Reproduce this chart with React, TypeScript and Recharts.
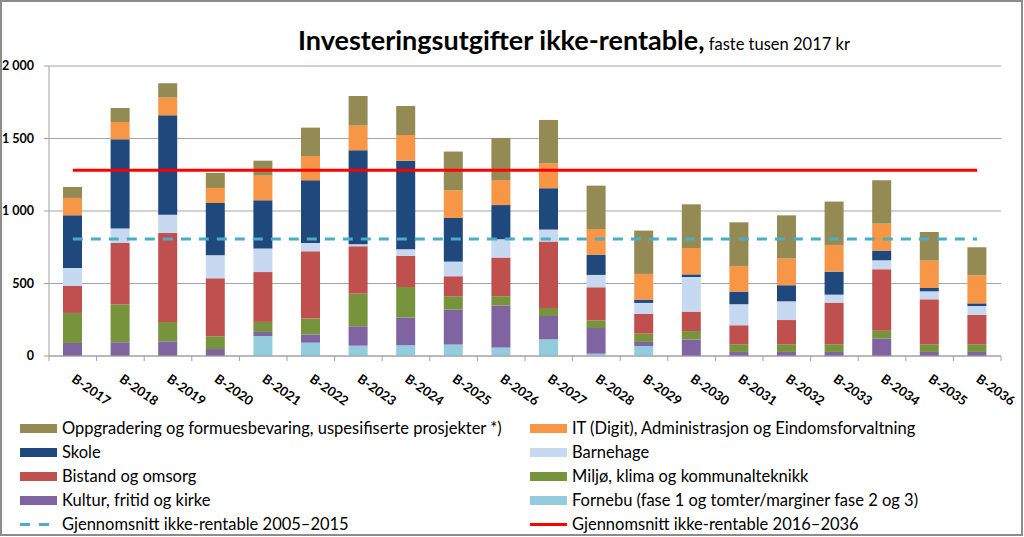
import React from "react";
import {
  ComposedChart,
  Bar,
  XAxis,
  YAxis,
  CartesianGrid,
  ReferenceLine,
} from "recharts";

const years = [
  "B-2017", "B-2018", "B-2019", "B-2020", "B-2021", "B-2022", "B-2023",
  "B-2024", "B-2025", "B-2026", "B-2027", "B-2028", "B-2029", "B-2030",
  "B-2031", "B-2032", "B-2033", "B-2034", "B-2035", "B-2036",
];

// stacked from the bottom up
const fornebu = [0, 0, 0, 0, 138, 92, 71, 74, 79, 58, 115, 16, 69, 0, 0, 0, 0, 0, 0, 0];
const kultur = [90, 94, 101, 48, 28, 56, 134, 191, 241, 290, 161, 177, 28, 113, 28, 28, 28, 120, 28, 28];
const miljo = [207, 262, 134, 88, 69, 110, 225, 211, 92, 64, 55, 53, 57, 59, 53, 53, 53, 55, 53, 53];
const bistand = [186, 423, 613, 400, 344, 464, 327, 214, 138, 267, 458, 228, 138, 134, 131, 167, 287, 423, 310, 202];
const barnehage = [124, 100, 127, 158, 162, 57, 13, 46, 101, 126, 83, 85, 74, 239, 145, 129, 55, 62, 55, 62];
const skole = [363, 615, 685, 361, 333, 433, 649, 611, 301, 236, 285, 140, 23, 18, 87, 111, 159, 67, 23, 18];
const it = [120, 120, 122, 104, 170, 167, 170, 177, 191, 173, 172, 177, 177, 182, 177, 184, 184, 186, 189, 194];
const oppgradering = [76, 97, 99, 103, 103, 196, 204, 200, 267, 290, 299, 299, 299, 301, 301, 298, 299, 299, 197, 193];

const snitt2005 = 807;
const snitt2016 = 1281;

const yTicks = [0, 500, 1000, 1500, 2000];

const series = [
  { key: "fornebu", name: "Fornebu (fase 1 og tomter/marginer fase 2 og 3)", color: "#93cddd", values: fornebu },
  { key: "kultur", name: "Kultur, fritid og kirke", color: "#8064a2", values: kultur },
  { key: "miljo", name: "Miljø, klima og kommunalteknikk", color: "#77933c", values: miljo },
  { key: "bistand", name: "Bistand og omsorg", color: "#c0504d", values: bistand },
  { key: "barnehage", name: "Barnehage", color: "#c6d9f1", values: barnehage },
  { key: "skole", name: "Skole", color: "#1f497d", values: skole },
  { key: "it", name: "IT (Digit), Administrasjon og Eindomsforvaltning", color: "#f79646", values: it },
  { key: "opp", name: "Oppgradering og formuesbevaring, uspesifiserte prosjekter *)", color: "#948a54", values: oppgradering },
];

const data = years.map((name, i) => {
  const row: Record<string, string | number> = { name };
  series.forEach((s) => {
    row[s.key] = s.values[i];
  });
  return row;
});

const W = 1024;
const PLOT_LEFT = 49;
const PLOT_RIGHT = 23;
const BAND = (W - PLOT_LEFT - PLOT_RIGHT) / years.length;
const FONT = "Lato, 'Open Sans', sans-serif";

const fmt = (v: number) => String(v).replace(/\B(?=(\d{3})+(?!\d))/g, " ");

function XTick(props: any) {
  const { x, y, payload, index } = props;
  const last = index === years.length - 1;
  return (
    <g>
      <line x1={x - BAND / 2} x2={x - BAND / 2} y1={y} y2={y + 5} stroke="#a0a0a0" />
      {last && <line x1={x + BAND / 2} x2={x + BAND / 2} y1={y} y2={y + 5} stroke="#a0a0a0" />}
      <text
        x={x - 2}
        y={y + 25}
        transform={`rotate(35, ${x - 2}, ${y + 25})`}
        textAnchor="start"
        fontSize={13}
        fontWeight="bold"
        fontFamily={FONT}
        fill="#000"
      >
        {payload.value}
      </text>
    </g>
  );
}

const legendLeft = [series[7], series[5], series[3], series[1]];
const legendRight = [series[6], series[4], series[2], series[0]];

function Swatch({ color }: { color: string }) {
  return <span style={{ display: "inline-block", width: 37, height: 9, background: color, marginRight: 5 }} />;
}

function LegendRow({ children }: { children: React.ReactNode }) {
  return <div style={{ height: 24, display: "flex", alignItems: "center" }}>{children}</div>;
}

export default function App() {
  return (
    <div style={{ position: "absolute", left: 0, top: 0, width: W, height: 537, background: "#fff", fontFamily: FONT }}>
      <div
        style={{
          position: "absolute", left: 0, top: 0, width: 1023, height: 536,
          boxSizing: "border-box", border: "2px solid #8c8c8c",
        }}
      />
      <div style={{ position: "absolute", left: 298, top: 23, whiteSpace: "nowrap" }}>
        <span style={{ fontSize: 27, fontWeight: "bold", color: "#000" }}>Investeringsutgifter ikke-rentable,</span>
        <span style={{ fontSize: 16.5, color: "#000" }}> faste tusen 2017 kr</span>
      </div>
      <div style={{ position: "absolute", left: 0, top: 0 }}>
        <ComposedChart
          width={W}
          height={420}
          data={data}
          margin={{ top: 66, right: PLOT_RIGHT, left: 0, bottom: 20 }}
          barSize={19}
        >
          <CartesianGrid vertical={false} stroke="#a6a6a6" />
          <XAxis
            dataKey="name"
            height={44}
            interval={0}
            tickLine={false}
            tickSize={0}
            tickMargin={0}
            axisLine={{ stroke: "#a0a0a0" }}
            tick={<XTick />}
          />
          <YAxis
            width={PLOT_LEFT}
            domain={[0, 2000]}
            ticks={yTicks}
            tickFormatter={fmt}
            tickSize={5}
            tickMargin={10}
            tickLine={{ stroke: "#a0a0a0" }}
            axisLine={{ stroke: "#a0a0a0" }}
            tick={{ fontSize: 12.5, fontWeight: "bold", fill: "#000", fontFamily: FONT }}
          />
          {series.map((s) => (
            <Bar key={s.key} dataKey={s.key} name={s.name} stackId="a" fill={s.color} isAnimationActive={false} />
          ))}
          <ReferenceLine
            segment={[{ x: years[0], y: snitt2005 }, { x: years[years.length - 1], y: snitt2005 }]}
            stroke="#4bacc6"
            strokeWidth={3}
            strokeDasharray="10 8"
          />
          <ReferenceLine
            segment={[{ x: years[0], y: snitt2016 }, { x: years[years.length - 1], y: snitt2016 }]}
            stroke="#ff0000"
            strokeWidth={3}
          />
        </ComposedChart>
      </div>
      <div style={{ position: "absolute", left: 20, top: 416, width: 1000, display: "flex", fontSize: 16.5, color: "#000" }}>
        <div style={{ width: 510 }}>
          {legendLeft.map((s) => (
            <LegendRow key={s.key}>
              <Swatch color={s.color} />
              {s.name}
            </LegendRow>
          ))}
          <LegendRow>
            <svg width={37} height={9} style={{ marginRight: 5 }}>
              <line x1={0} x2={37} y1={4.5} y2={4.5} stroke="#4bacc6" strokeWidth={3} strokeDasharray="10 9" />
            </svg>
            Gjennomsnitt ikke-rentable 2005–2015
          </LegendRow>
        </div>
        <div>
          {legendRight.map((s) => (
            <LegendRow key={s.key}>
              <Swatch color={s.color} />
              {s.name}
            </LegendRow>
          ))}
          <LegendRow>
            <svg width={37} height={9} style={{ marginRight: 5 }}>
              <line x1={0} x2={37} y1={4.5} y2={4.5} stroke="#ff0000" strokeWidth={3} />
            </svg>
            Gjennomsnitt ikke-rentable 2016–2036
          </LegendRow>
        </div>
      </div>
    </div>
  );
}
